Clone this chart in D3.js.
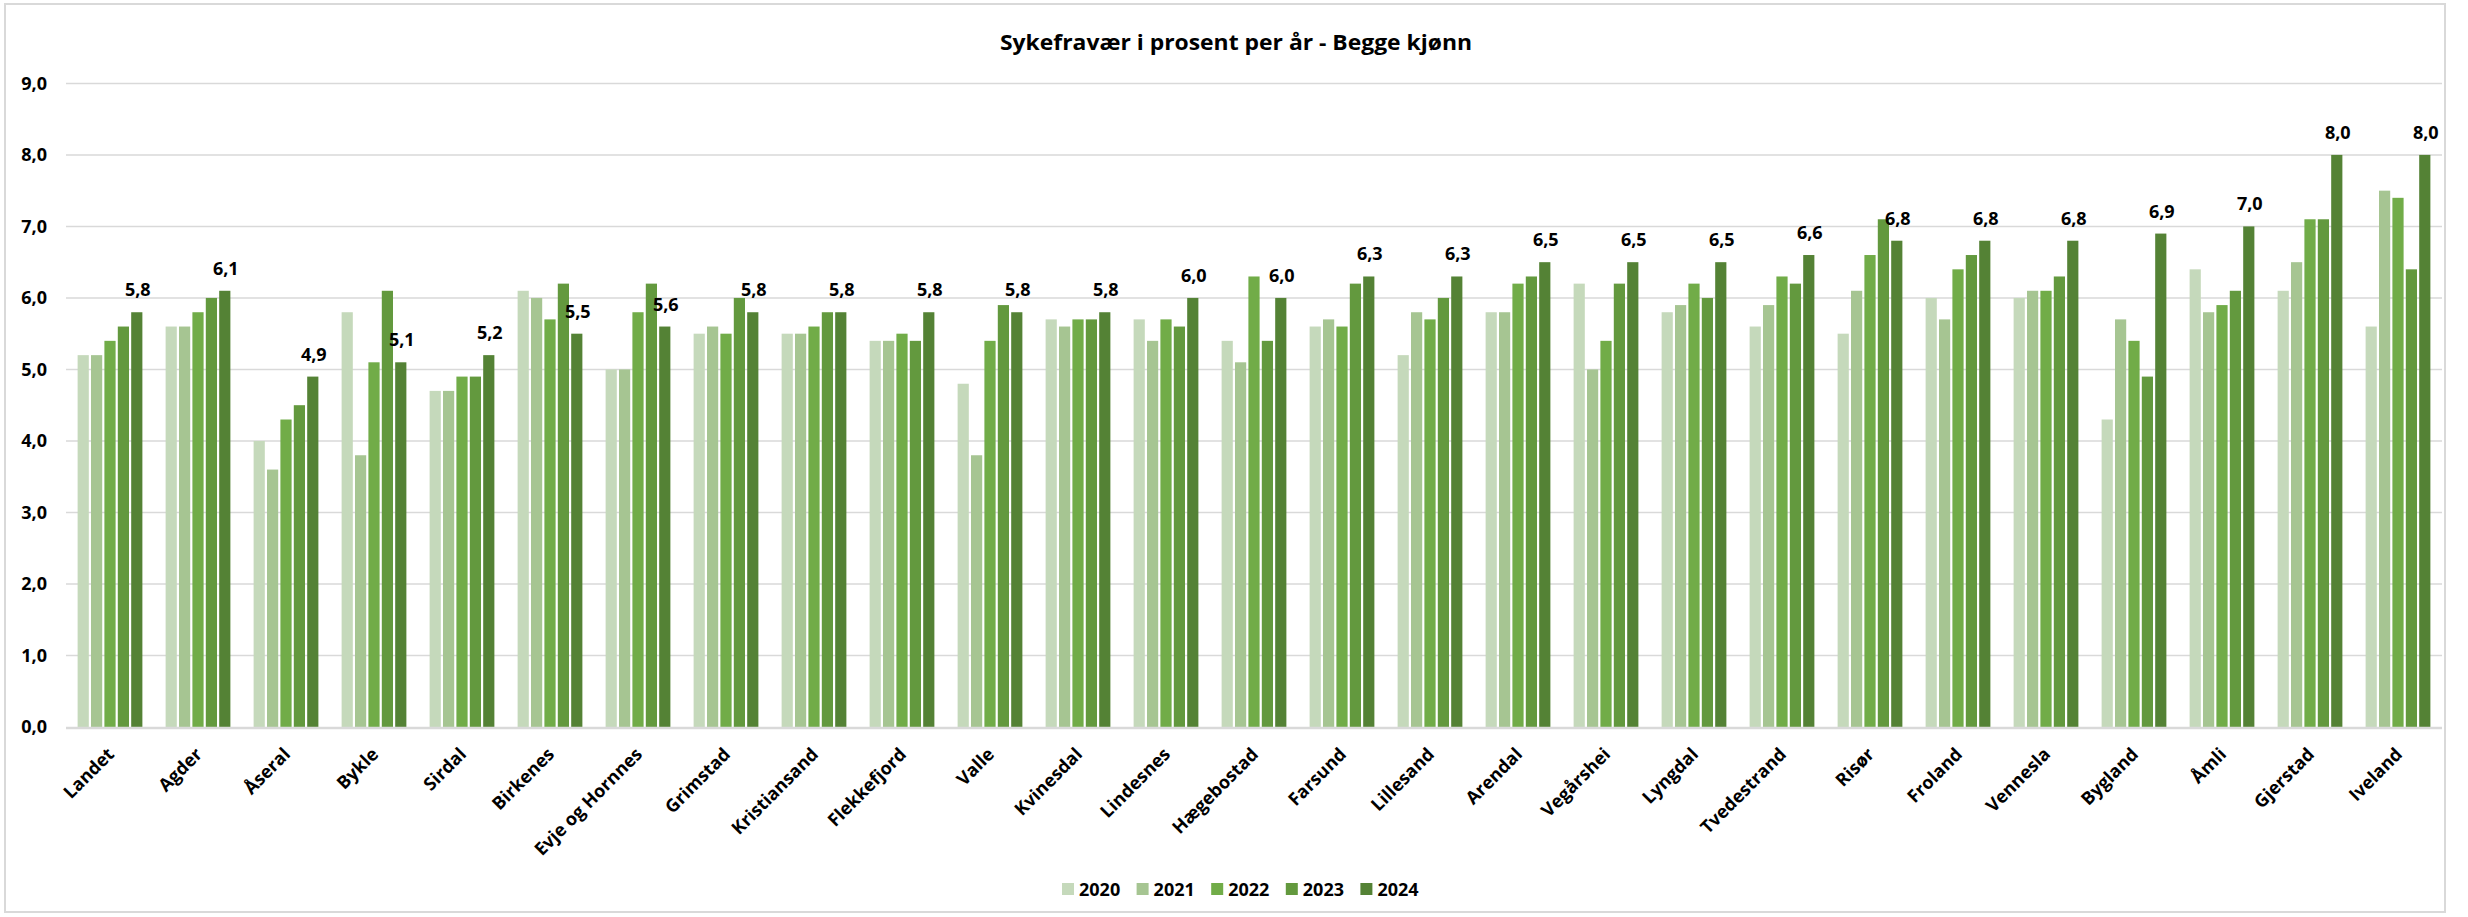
<!DOCTYPE html>
<html><head><meta charset="utf-8">
<script src="https://cdn.jsdelivr.net/npm/d3@7"></script>
<style>html,body{margin:0;padding:0;background:#fff;}svg{display:block;}</style>
</head><body>
<script>
const categories = ["Landet","Agder","Åseral","Bykle","Sirdal","Birkenes","Evje og Hornnes","Grimstad","Kristiansand","Flekkefjord","Valle","Kvinesdal","Lindesnes","Hægebostad","Farsund","Lillesand","Arendal","Vegårshei","Lyngdal","Tvedestrand","Risør","Froland","Vennesla","Bygland","Åmli","Gjerstad","Iveland"];
const years = ["2020","2021","2022","2023","2024"];
const v2020 = [5.2,5.6,4.0,5.8,4.7,6.1,5.0,5.5,5.5,5.4,4.8,5.7,5.7,5.4,5.6,5.2,5.8,6.2,5.8,5.6,5.5,6.0,6.0,4.3,6.4,6.1,5.6];
const v2021 = [5.2,5.6,3.6,3.8,4.7,6.0,5.0,5.6,5.5,5.4,3.8,5.6,5.4,5.1,5.7,5.8,5.8,5.0,5.9,5.9,6.1,5.7,6.1,5.7,5.8,6.5,7.5];
const v2022 = [5.4,5.8,4.3,5.1,4.9,5.7,5.8,5.5,5.6,5.5,5.4,5.7,5.7,6.3,5.6,5.7,6.2,5.4,6.2,6.3,6.6,6.4,6.1,5.4,5.9,7.1,7.4];
const v2023 = [5.6,6.0,4.5,6.1,4.9,6.2,6.2,6.0,5.8,5.4,5.9,5.7,5.6,5.4,6.2,6.0,6.3,6.2,6.0,6.2,7.1,6.6,6.3,4.9,6.1,7.1,6.4];
const v2024 = [5.8,6.1,4.9,5.1,5.2,5.5,5.6,5.8,5.8,5.8,5.8,5.8,6.0,6.0,6.3,6.3,6.5,6.5,6.5,6.6,6.8,6.8,6.8,6.9,7.0,8.0,8.0];
const yTicks = [0,1,2,3,4,5,6,7,8,9];
const title = "Sykefravær i prosent per år - Begge kjønn";
const colors = ["#C5D9BB","#A6C592","#71AC48","#63993E","#548235"];
const seriesValues = [v2020,v2021,v2022,v2023,v2024];

const W = 2468, H = 917;
const plot = {left: 66, right: 2442, top: 83.4, bottom: 727};
const FONT = "'Open Sans', 'DejaVu Sans', sans-serif";

const svg = d3.select("body").append("svg").attr("width", W).attr("height", H);
svg.append("rect").attr("x",0).attr("y",0).attr("width",W).attr("height",H).attr("fill","#fff");
svg.append("rect").attr("x",5).attr("y",4).attr("width",2440).attr("height",908)
  .attr("fill","none").attr("stroke","#d9d9d9").attr("stroke-width",2);

const x0 = d3.scaleBand().domain(categories).range([plot.left, plot.right]).paddingInner(0.239).paddingOuter(0.1195);
const x1 = d3.scaleBand().domain(years).range([0, x0.bandwidth()]).padding(0);
const y = d3.scaleLinear().domain([0,9]).range([plot.bottom, plot.top]);

// gridlines
svg.append("g").selectAll("line").data(yTicks.filter(d=>d>0)).join("line")
  .attr("x1", plot.left).attr("x2", plot.right)
  .attr("y1", d=>y(d)).attr("y2", d=>y(d))
  .attr("stroke","#d9d9d9").attr("stroke-width",1.5);

// y axis labels
const yAxis = d3.axisLeft(y).tickValues(yTicks).tickSize(0).tickPadding(19)
  .tickFormat(d => d3.format(".1f")(d).replace(".", ","));
const gy = svg.append("g").attr("transform", `translate(${plot.left},0)`).call(yAxis);
gy.select(".domain").remove();
gy.selectAll("text").attr("font-family", FONT).attr("font-weight", 700).attr("font-size", 18).attr("fill", "#000");

// bars
const groups = svg.append("g").selectAll("g").data(categories).join("g")
  .attr("transform", d => `translate(${x0(d)},0)`);
groups.selectAll("rect").data((c,i) => years.map((yr,j) => ({yr, v: seriesValues[j][i], j})))
  .join("rect")
  .attr("x", d => x1(d.yr) + 1.1)
  .attr("width", x1.bandwidth() - 2.2)
  .attr("y", d => y(d.v))
  .attr("height", d => y(0) - y(d.v))
  .attr("fill", d => colors[d.j]);

// data labels for 2024
svg.append("g").selectAll("text").data(categories).join("text")
  .attr("x", (c) => x0(c) + x1("2024") + x1.bandwidth()/2 + 1)
  .attr("y", (c,i) => y(v2024[i]) - 16)
  .attr("text-anchor","middle")
  .attr("font-family", FONT).attr("font-weight",700).attr("font-size",18).attr("fill","#000")
  .text((c,i) => d3.format(".1f")(v2024[i]).replace(".", ","));

// x axis line
svg.append("line").attr("x1", plot.left).attr("x2", plot.right)
  .attr("y1", y(0)+1).attr("y2", y(0)+1).attr("stroke","#d9d9d9").attr("stroke-width",2.5);

// x labels
const xAxis = d3.axisBottom(x0).tickSize(0).tickPadding(0);
const gx = svg.append("g").attr("transform", `translate(0,${plot.bottom})`).call(xAxis);
gx.select(".domain").remove();
gx.selectAll(".tick text")
  .attr("font-family", FONT).attr("font-weight",700).attr("font-size",18).attr("fill","#000")
  .attr("text-anchor","end")
  .attr("dy", null).attr("y", null)
  .attr("transform","translate(2,25) rotate(-45)")
  .attr("dominant-baseline","middle");

// title
svg.append("text").attr("x", 1236).attr("y", 50).attr("text-anchor","middle")
  .attr("font-family", FONT).attr("font-weight",700).attr("font-size",22).attr("fill","#000")
  .attr("textLength", 472).attr("lengthAdjust","spacingAndGlyphs")
  .text(title);

// legend
const legend = svg.append("g");
const legX = d3.scaleBand().domain(years).range([1062, 1062 + 5*74.6]);
const li = legend.selectAll("g").data(years).join("g").attr("transform", d => `translate(${legX(d)},889)`);
li.append("rect").attr("x",0).attr("y",-6).attr("width",12).attr("height",12).attr("fill",(d,i)=>colors[i]);
li.append("text").attr("x",17).attr("y",0).attr("dominant-baseline","central")
  .attr("font-family", FONT).attr("font-weight",700).attr("font-size",18).attr("fill","#000")
  .text(d=>d);
</script>
</body></html>
